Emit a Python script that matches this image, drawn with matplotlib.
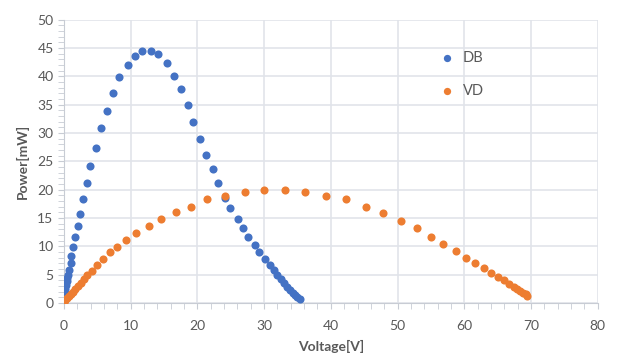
import matplotlib
matplotlib.use("Agg")
import matplotlib.pyplot as plt
from matplotlib.ticker import MultipleLocator

# DB series (voltage [V], power [mW])
db_v = [0.0, 0.05, 0.1, 0.15, 0.2, 0.3, 0.4, 0.5, 0.6, 0.8, 1.0, 1.05, 1.3, 1.6,
        2.1, 2.4, 2.9, 3.45, 3.9, 4.75, 5.6, 6.4, 7.4, 8.2, 9.55, 10.65, 11.75,
        13.0, 14.1, 15.4, 16.45, 17.5, 18.6, 19.35, 20.45, 21.25, 22.3, 23.15,
        24.2, 24.95, 26.05, 26.8, 27.65, 28.7, 29.25, 30.1, 30.85, 31.45, 31.95,
        32.5, 33.0, 33.4, 33.85, 34.3, 34.6, 35.0, 35.35]
db_p = [0.3, 0.8, 1.3, 1.9, 2.5, 3.2, 3.8, 4.4, 5.0, 5.8, 7.0, 8.3, 9.8, 11.7,
        13.6, 15.7, 18.3, 21.1, 24.2, 27.3, 30.8, 33.9, 37.0, 39.8, 42.0, 43.6, 44.5,
        44.5, 43.9, 42.3, 40.1, 37.7, 34.9, 32.0, 28.9, 26.1, 23.6, 21.1,
        18.6, 16.7, 14.8, 13.3, 11.7, 10.2, 9.0, 7.7, 6.7, 5.8, 4.9,
        4.2, 3.5, 2.9, 2.3, 1.8, 1.4, 1.0, 0.65]

# VD series
vd_v = [0.0, 0.2, 0.4, 0.7, 1.0, 1.3, 1.7, 2.1, 2.5, 3.0, 3.45, 4.2, 5.0, 5.85,
        6.9, 7.95, 9.25, 10.85, 12.75, 14.6, 16.75, 19.1, 21.5, 24.2, 27.1,
        30.05, 33.15, 36.15, 39.25, 42.2, 45.2, 47.75, 50.45, 52.9, 55.0, 56.8,
        58.7, 60.3, 61.6, 62.95, 64.0, 65.1, 65.95, 66.7, 67.4, 67.9, 68.4,
        68.8, 69.2, 69.4]
vd_p = [0.2, 0.5, 0.8, 1.2, 1.6, 2.0, 2.5, 3.0, 3.5, 4.2, 4.9, 5.7, 6.7, 7.7,
        9.0, 9.9, 11.1, 12.4, 13.6, 14.8, 16.1, 17.0, 18.3, 18.9, 19.5,
        19.9, 19.9, 19.5, 18.9, 18.3, 17.0, 15.8, 14.5, 13.3, 11.7, 10.4,
        9.2, 8.0, 7.1, 6.1, 5.2, 4.6, 4.0, 3.3, 2.8, 2.4, 2.1,
        1.8, 1.5, 1.3]

plt.rcParams['font.family'] = ['Lato', 'DejaVu Sans']

fig = plt.figure(figsize=(6.17, 3.56), dpi=100)
ax = fig.add_axes([0.1037, 0.149, 0.865, 0.796])

ax.scatter(db_v, db_p, s=34, color='#4472C4', label='DB', zorder=3, linewidths=0)
ax.scatter(vd_v, vd_p, s=34, color='#ED7D31', label='VD', zorder=3, linewidths=0)

ax.set_xlim(0, 80)
ax.set_ylim(0, 50)
ax.xaxis.set_major_locator(MultipleLocator(10))
ax.xaxis.set_minor_locator(MultipleLocator(2))
ax.yaxis.set_major_locator(MultipleLocator(5))
ax.yaxis.set_minor_locator(MultipleLocator(1))

ax.grid(True, which='major', color='#E1E4EA', linewidth=1.2, zorder=0)
ax.set_axisbelow(True)
for s in ['top', 'right']:
    ax.spines[s].set_visible(False)
for s in ['left', 'bottom']:
    ax.spines[s].set_color('#C8CCD4')
ax.tick_params(which='both', colors='#C8CCD4', labelcolor='#595959', labelsize=10)
ax.tick_params(which='major', length=4)
ax.tick_params(which='minor', length=4)
ax.tick_params(axis='x', pad=8)

ax.set_xlabel('Voltage[V]', fontsize=10, fontweight='bold', color='#595959', labelpad=6)
ax.set_ylabel('Power[mW]', fontsize=10, fontweight='bold', color='#595959', labelpad=6)

leg = ax.legend(loc='upper left', bbox_to_anchor=(0.665, 0.935), frameon=False,
                handletextpad=0.1, labelspacing=1.3, fontsize=10.5, markerscale=0.9)
for t in leg.get_texts():
    t.set_color('#595959')

fig.savefig('out.png', dpi=100)
